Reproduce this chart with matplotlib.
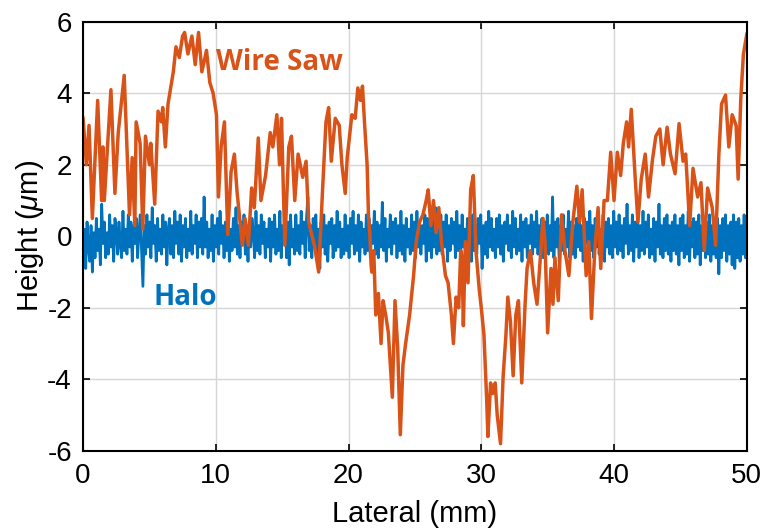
import numpy as np
import matplotlib
matplotlib.use("Agg")
from matplotlib import pyplot as plt

# wire saw profile (lateral mm, height um)
saw_x = [0.0, 0.25, 0.45, 0.7, 1.1, 1.4, 1.5, 1.6, 2.1, 2.4, 2.65, 3.1, 3.5, 3.7, 3.9, 4.0,
         4.3, 4.5, 4.7, 5.0, 5.1, 5.4, 5.65, 5.9, 6.0, 6.2, 6.4, 6.8, 7.0, 7.25, 7.5, 7.65,
         7.9, 8.2, 8.45, 8.7, 8.95, 9.3, 9.55, 9.8, 10.05, 10.2, 10.4, 10.65, 10.9, 11.15,
         11.4, 11.6, 12.0, 12.2, 12.45, 12.7, 12.9, 13.2, 13.4, 13.75, 14.1, 14.3, 14.6,
         14.8, 14.95, 15.2, 15.5, 15.7, 15.95, 16.2, 16.55, 16.8, 17.0, 17.45, 17.75, 18.05,
         18.3, 18.5, 18.7, 19.0, 19.3, 19.5, 19.75, 19.9, 20.25, 20.5, 20.7, 20.9, 21.05,
         21.2, 21.4, 21.5, 21.6, 21.7, 21.75, 21.9, 22.05, 22.25, 22.45, 22.6, 22.8, 23.0,
         23.3, 23.5, 23.7, 23.9, 24.1, 24.3, 24.6, 24.9, 25.1, 25.35, 25.6, 25.85, 26.0,
         26.2, 26.4, 26.6, 26.8, 27.0, 27.3, 27.5, 27.75, 27.9, 28.1, 28.3, 28.45, 28.55,
         28.65, 28.8, 29.0, 29.2, 29.4, 29.6, 29.85, 30.0, 30.2, 30.4, 30.5, 30.7, 30.85,
         31.05, 31.2, 31.45, 31.65, 31.85, 32.0, 32.2, 32.4, 32.6, 32.8, 33.05, 33.3, 33.45,
         33.7, 33.95, 34.2, 34.45, 34.65, 34.8, 35.0, 35.25, 35.4, 35.55, 35.8, 36.05, 36.3,
         36.6, 36.9, 37.2, 37.4, 37.6, 37.9, 38.1, 38.3, 38.55, 38.8, 39.0, 39.25, 39.5,
         39.75, 40.0, 40.25, 40.5, 40.7, 40.95, 41.1, 41.3, 41.6, 41.8, 42.05, 42.35, 42.6,
         42.9, 43.15, 43.45, 43.7, 44.0, 44.25, 44.6, 44.9, 45.2, 45.4, 45.7, 45.95, 46.3,
         46.55, 46.8, 47.05, 47.4, 47.65, 47.9, 48.1, 48.4, 48.65, 48.9, 49.2, 49.35, 49.55,
         49.75, 50.0]
saw_y = [3.3, 2.0, 3.1, 0.5, 3.8, 1.0, 2.5, 1.0, 4.1, 1.2, 2.9, 4.5, 0.6, 2.2, 0.3, 3.2,
         2.6, 0.2, 2.8, 2.0, 2.6, 0.9, 3.5, 3.2, 3.6, 2.5, 3.7, 4.6, 5.3, 5.0, 5.6, 5.7,
         5.1, 5.6, 4.8, 5.7, 4.6, 5.2, 4.3, 4.0, 3.4, 1.1, 2.5, 3.2, 0.05, 1.8,
         2.3, 1.25, -0.25, 0.5, -0.25, 1.35, 0.8, 2.75, 1.0, 1.7, 2.9, 2.5, 3.4,
         2.0, 3.3, -0.25, 2.5, 2.8, 1.0, 2.3, 1.65, 2.1, 0.4, -0.3, -1.0, 1.35,
         3.2, 3.6, 2.1, 3.3, 3.1, 2.0, 1.2, 2.2, 3.4, 3.3, 4.15, 3.8, 4.2,
         3.2, 2.0, 0.6, 0.1, -0.8, -1.0, -0.4, -2.2, -1.6, -3.0, -1.8, -2.2, -2.7,
         -4.5, -1.8, -3.1, -5.55, -3.6, -3.0, -2.2, -1.1, -0.15, 0.4, 0.6, 1.0, 1.3,
         0.3, 1.0, 0.1, 0.8, -0.15, -1.1, -1.3, -2.2, -3.0, -1.7, -2.0, -0.4, -0.6,
         -2.5, -0.15, -1.3, 1.3, 1.7, -0.4, -1.5, -2.0, -2.75, -4.5, -5.6, -4.1, -4.4,
         -4.1, -5.0, -5.8, -3.9, -2.8, -1.7, -2.4, -3.9, -2.2, -1.8, -4.1, -1.9, -0.9,
         -0.4, -1.3, -1.9, -0.6, 0.5, -0.15, -2.7, -0.9, -1.9, -0.6, -1.8, 0.6, -0.4,
         -1.1, 0.4, 1.4, 0.4, 1.3, -1.1, -0.15, -2.3, -0.4, 0.8, -0.9, 1.0, 1.0,
         2.35, 1.0, 2.35, 1.7, 2.6, 3.2, 2.5, 3.55, 1.6, 0.4, 1.6, 2.3, 1.1,
         2.15, 2.8, 3.0, 2.0, 3.05, 2.3, 1.75, 3.15, 2.1, 2.3, 0.3, 1.9, 1.1,
         1.5, -0.4, 1.35, 0.8, -0.25, 2.3, 3.7, 3.95, 2.5, 3.4, 3.1, 1.6, 3.85,
         5.1, 5.65]

# halo profile, evenly sampled over 0-50 mm (one row per mm)
halo_y = [
    -0.5, 0.2, -0.9, 0.4, -0.3, -0.7, 0.3, -1.0, 0.1, -0.6,
    0.5, -0.4, 0.2, -0.8, 0.9, -0.2, 0.4, -0.6, 0.1, -0.5,
    0.6, -0.3, 0.3, -0.7, 0.5, 0.1, -0.5, 0.4, -0.2, -0.6,
    0.7, -0.4, 0.2, -0.5, 0.6, -0.3, 0.4, -0.7, 0.3, -0.2,
    0.5, -0.6, 0.1, 0.6, -0.4, -1.4, 0.3, -0.5, 0.6, -0.3,
    0.4, -0.6, 0.8, -0.2, 0.3, -0.7, 0.5, -0.4, 0.2, -0.5,
    0.6, -0.3, 0.4, -0.8, 0.2, 0.5, -0.5, 0.3, -0.6, 0.7,
    -0.2, 0.4, -0.5, 0.6, -0.7, 0.3, -0.3, 0.5, -0.6, 0.2,
    -0.4, 0.7, -0.5, 0.3, -0.2, 0.6, -0.6, 0.4, -0.3, 0.5,
    -0.5, 1.1, -0.3, 0.4, -0.6, 0.2, -0.4, 0.6, -0.7, 0.3,
    -0.3, 0.5, -0.5, 0.7, -0.2, 0.3, -0.6, 0.4, -0.4, 0.6,
    -0.7, 0.2, -0.4, 0.5, -0.3, 0.8, -0.5, 0.3, -0.6, 0.4,
    -0.2, 0.6, -0.5, 0.3, -0.7, 0.4, -0.3, 0.5, 0.1, -0.6,
    0.7, -0.4, 0.3, -0.5, 0.6, -0.2, 0.4, -0.6, 0.2, -0.3,
    0.5, -0.7, 0.4, -0.3, 0.6, -0.5, 0.2, -0.4, 0.7, -0.6,
    0.3, -0.2, 0.5, -0.6, 0.4, -0.8, 0.6, -0.3, 0.2, -0.5,
    0.6, -0.4, 0.3, -0.5, 0.7, -0.2, 0.4, -0.6, 0.5, 1.1,
    -0.4, 0.3, -0.6, 0.5, -0.3, 0.6, -0.5, 0.2, -0.9, 0.4,
    -0.3, 0.6, -0.5, 0.3, -0.7, 0.4, -0.2, 0.5, -0.6, 0.3,
    -0.4, 0.7, -0.3, 0.4, -0.6, 0.2, -0.5, 0.6, -0.4, 0.3,
    -0.6, 0.5, -0.2, 0.7, -0.5, 0.3, -0.4, 0.6, -0.7, 0.4,
    -0.3, 0.2, -0.5, 0.6, -0.4, 0.5, -0.6, 0.3, -0.2, 0.7,
    -0.5, 0.4, -0.6, 0.3, -0.3, 0.95, -0.4, 0.5, -0.7, 0.2,
    -0.3, 0.6, -0.5, 0.4, -0.2, 0.5, -0.6, 0.3, -0.4, 0.7,
    -0.5, 0.3, -0.7, 0.5, -0.3, 0.2, -0.5, 0.6, -0.4, 0.4,
    -0.6, 0.7, -0.3, 0.4, -0.5, 0.3, -0.2, 0.6, -0.7, 0.5,
    -0.4, 0.3, -0.6, 0.5, -0.3, 0.8, -0.5, 0.2, -0.4, 0.6,
    -0.5, 0.4, -0.3, 0.6, -0.7, 0.3, -0.4, 0.5, -0.2, 0.4,
    -0.6, 0.7, -0.4, 0.3, -0.5, 0.6, -0.3, 0.2, -0.6, 0.5,
    -0.3, 0.4, -0.7, 0.6, -0.4, 0.3, -0.5, 0.5, -0.2, 0.6,
    -0.9, 0.3, -0.5, 0.4, -0.6, 0.7, -0.3, 0.5, -0.4, 0.2,
    -0.6, 0.5, -0.3, 0.6, -0.5, 0.3, -0.7, 0.4, -0.2, 0.6,
    -0.4, 0.3, -0.6, 0.7, -0.3, 0.5, -0.5, 0.2, -0.4, 0.6,
    -0.7, 0.4, -0.3, 0.5, -0.6, 0.3, -0.2, 0.6, -0.5, 0.4,
    -0.3, 0.7, -0.5, 0.3, -0.4, 0.5, -0.6, 0.4, -0.3, 0.6,
    -0.5, 0.3, -0.4, 1.1, -0.6, 0.4, -0.3, 0.5, -0.7, 0.3,
    -0.4, 0.6, -0.5, 0.2, -0.3, 0.7, -0.6, 0.4, -0.5, 0.3,
    -0.6, 0.5, -0.3, 0.6, -0.4, 0.3, -0.7, 0.5, -0.2, 0.4,
    -0.5, 0.7, -0.4, 0.3, -0.6, 0.5, -0.3, 0.6, -0.5, 0.2,
    -0.4, 0.6, -0.7, 0.4, -0.3, 0.5, -0.5, 0.3, -0.6, 0.7,
    -0.3, 0.4, -0.5, 0.6, -0.4, 0.3, -0.6, 0.5, -0.2, 0.9,
    -0.5, 0.3, -0.4, 0.6, -0.7, 0.4, -0.3, 0.5, -0.6, 0.3,
    -0.4, 0.7, -0.5, 0.4, -0.3, 0.6, -0.6, 0.2, -0.5, 0.5,
    -0.7, 0.4, -0.3, 0.9, -0.5, 0.3, -0.6, 0.5, -0.4, 0.6,
    -0.5, 0.3, -0.7, 0.4, -0.4, 0.6, -0.5, 0.3, -0.8, 0.5,
    -0.4, 0.6, -0.6, 0.3, -0.5, 0.7, -0.7, 0.4, -0.3, 0.5,
    -0.6, 0.4, -0.5, 0.6, -0.8, 0.3, -0.4, 0.5, -0.6, 0.4,
    -0.5, 0.6, -0.7, 0.3, -0.5, 0.4, -0.6, 0.5, -1.05, 0.3,
    -0.6, 0.5, -0.4, 0.6, -0.7, 0.3, -0.5, 0.4, -0.8, 0.6,
    -0.9, 0.4, -0.6, 0.5, -0.7, 0.3, -0.5, 0.6, -0.6, 0.4,
]
halo_x = np.linspace(0, 50, len(halo_y))

x_ticks = [0, 10, 20, 30, 40, 50]
y_ticks = [-6, -4, -2, 0, 2, 4, 6]

blue = '#0072BD'
orange = '#D95319'

plt.rcParams['font.family'] = ['Liberation Sans', 'DejaVu Sans']
plt.rcParams['axes.unicode_minus'] = False
plt.rcParams['mathtext.fontset'] = 'custom'
plt.rcParams['mathtext.it'] = 'Liberation Sans:italic'
plt.rcParams['mathtext.rm'] = 'Liberation Sans'

fig = plt.figure(figsize=(7.62, 5.31), dpi=100)
ax = fig.add_axes([0.109, 0.151, 0.871, 0.808])

ax.plot(halo_x, halo_y, color=blue, linewidth=2.0)
ax.plot(saw_x, saw_y, color=orange, linewidth=2.5)

ax.set_xlim(0, 50)
ax.set_ylim(-6, 6)
ax.set_xticks(x_ticks)
ax.set_yticks(y_ticks)
ax.grid(True, color='#d6d6d6', linewidth=1.0)
ax.set_axisbelow(True)
ax.tick_params(direction='in', top=True, right=True, length=5, width=1.2,
               labelsize=20)
ax.tick_params(axis='x', pad=9)
ax.tick_params(axis='y', pad=8)
for s in ax.spines.values():
    s.set_linewidth(1.5)

ax.set_xlabel('Lateral (mm)', fontsize=21, labelpad=8)
ax.set_ylabel('Height ($\\mu$m)', fontsize=21, labelpad=1)

ax.text(10.0, 4.85, 'Wire Saw', color=orange, fontsize=20, fontweight='bold',
        family='Open Sans', va='center', ha='left')
ax.text(5.27, -1.72, 'Halo', color=blue, fontsize=20, fontweight='bold',
        family='Open Sans', va='center', ha='left')

fig.savefig('out.png', dpi=100)
